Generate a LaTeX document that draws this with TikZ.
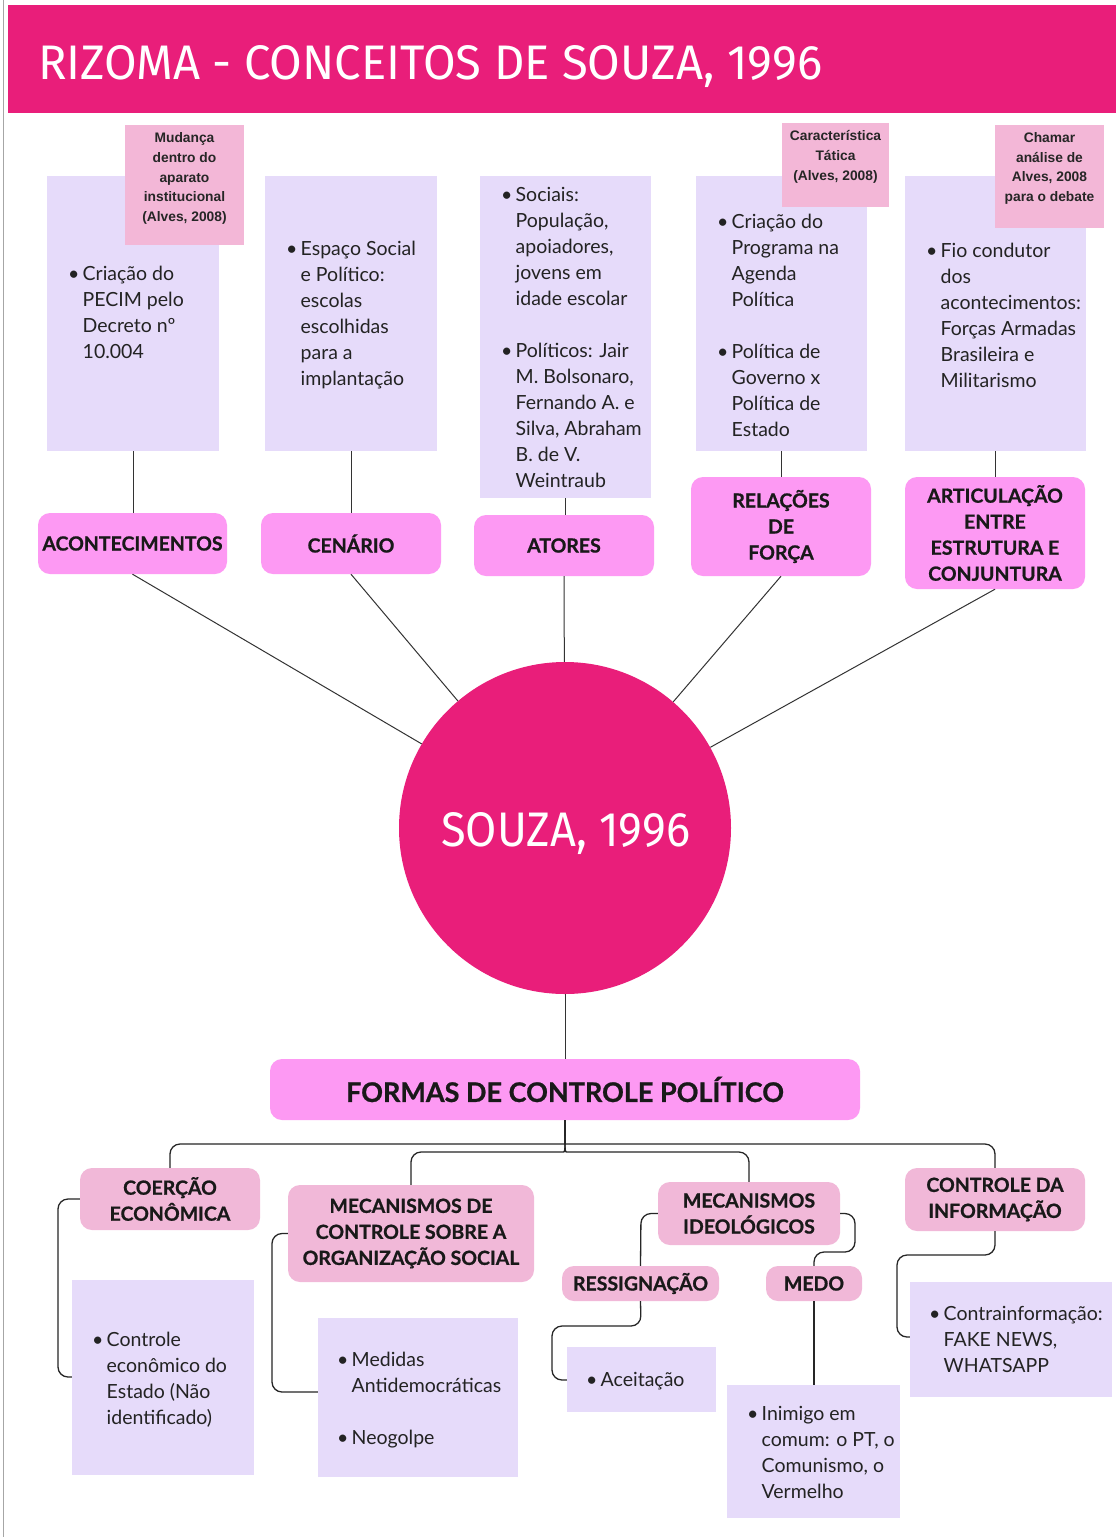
\documentclass[tikz,border=0pt]{standalone}
\usepackage{fontspec}
\usepackage{graphicx}
\setmainfont{Lato}[BoldFeatures={FakeBold=0.8}]
\newfontfamily\titlef{Fira Sans}
\newfontfamily\stickf{Liberation Sans}
\definecolor{hot}{RGB}{233,30,122}
\definecolor{lab}{RGB}{253,153,243}
\definecolor{lav}{RGB}{230,219,250}
\definecolor{stick}{RGB}{243,183,215}
\definecolor{labb}{RGB}{241,184,216}
\definecolor{txt}{RGB}{35,35,35}
\newcommand{\bl}{\makebox[14.5pt][l]{\textbullet}}
\newcommand{\ii}{\hspace*{14.5pt}}
\tikzset{
  lavbox/.style={fill=lav, inner sep=0, draw=none},
  stk/.style={fill=stick, inner sep=0, draw=none},
  stt/.style={inner sep=0, align=center, text=black!85, font=\stickf\bfseries\fontsize{13.8}{19.7}\selectfont},
  tx/.style={inner sep=0, anchor=base west, text=txt, font=\fontsize{19.5}{26}\selectfont},
  lbl/.style={rounded corners=12, fill=lab, align=center, inner sep=0, text=black!90, font=\bfseries\fontsize{19.5}{26}\selectfont},
  lblb/.style={rounded corners=12, fill=labb, align=center, inner sep=0, text=black!90, font=\bfseries\fontsize{19.5}{26}\selectfont},
  thin/.style={draw=black!80, line width=1pt},
  conn/.style={draw=black!85, line width=1.3pt, rounded corners=10},
}
\begin{document}
\begin{tikzpicture}[x=1pt,y=-1pt]
\useasboundingbox (0,0) rectangle (1116,1537);
\fill[white] (0,0) rectangle (1116,1537);
\draw[black!35, line width=1pt] (3,0) -- (3,1537);
% header
\node[fill=hot, minimum width=1108, minimum height=108, inner sep=0] (header) at (562,59) {};
\node[anchor=base west, inner sep=0, text=white] (title) at (38,79) {\resizebox{784pt}{34pt}{\titlef RIZOMA - CONCEITOS DE SOUZA, 1996}};

% top lavender boxes
\node[lavbox, minimum width=172, minimum height=275] (b1) at (133,313.5) {};
\node[lavbox, minimum width=172, minimum height=275] (b2) at (351,313.5) {};
\node[lavbox, minimum width=171, minimum height=322] (b3) at (565.5,337) {};
\node[lavbox, minimum width=171, minimum height=275] (b4) at (781.5,313.5) {};
\node[lavbox, minimum width=181, minimum height=275] (b5) at (995.5,313.5) {};

% sticky notes
\node[stk, minimum width=119, minimum height=120] (s1) at (184.5,185) {};
\node[stt] (s1t) at (184.5,178.5) {Mudança\\dentro do\\aparato\\institucional\\(Alves, 2008)};
\node[stk, minimum width=107, minimum height=84] (s2) at (835.5,165) {};
\node[stt] (s2t) at (835.5,157) {Característica\\Tática\\(Alves, 2008)};
\node[stk, minimum width=109, minimum height=103] (s3) at (1049.5,176.5) {};
\node[stt] (s3t) at (1049.5,168.5) {Chamar\\análise de\\Alves, 2008\\para o debate};

% top box texts
\node[tx] (t1) at (68,280) {\parbox[t]{160pt}{\raggedright\bl Criação do\\\ii PECIM pelo\\\ii Decreto nº\\\ii 10.004}};
\node[tx] (t2) at (286,255) {\parbox[t]{160pt}{\raggedright\bl Espaço Social\\\ii e Político:\\\ii escolas\\\ii escolhidas\\\ii para a\\\ii implantação}};
\node[tx] (t3) at (501,201) {\parbox[t]{160pt}{\raggedright\bl Sociais:\\\ii População,\\\ii apoiadores,\\\ii jovens em\\\ii idade escolar\\[26pt]\bl Políticos: Jair\\\ii M. Bolsonaro,\\\ii Fernando A. e\\\ii Silva, Abraham\\\ii B. de V.\\\ii Weintraub}};
\node[tx] (t4) at (717,228) {\parbox[t]{160pt}{\raggedright\bl Criação do\\\ii Programa na\\\ii Agenda\\\ii Política\\[26pt]\bl Política de\\\ii Governo x\\\ii Política de\\\ii Estado}};
\node[tx] (t5) at (926,257) {\parbox[t]{170pt}{\raggedright\bl Fio condutor\\\ii dos\\\ii acontecimentos:\\\ii Forças Armadas\\\ii Brasileira e\\\ii Militarismo}};

% top labels
\node[lbl, minimum width=189, minimum height=61] (lab1) at (132.5,543.5) {ACONTECIMENTOS};
\node[lbl, minimum width=180, minimum height=61] (lab2) at (351,543.5) {CENÁRIO};
\node[lbl, minimum width=180, minimum height=61] (lab3) at (564,545.5) {ATORES};
\node[lbl, minimum width=180, minimum height=99] (lab4) at (781,526.5) {RELAÇÕES\\DE\\FORÇA};
\node[lbl, minimum width=180, minimum height=112] (lab5) at (995,533) {ARTICULAÇÃO\\ENTRE\\ESTRUTURA E\\CONJUNTURA};

\draw[thin] (b1.south) -- (b1.south |- lab1.north);
\draw[thin] (b2.south) -- (b2.south |- lab2.north);
\draw[thin] (b3.south) -- (b3.south |- lab3.north);
\draw[thin] (b4.south) -- (b4.south |- lab4.north);
\draw[thin] (b5.south) -- (b5.south |- lab5.north);

% central circle
\node[circle, fill=hot, minimum size=332, inner sep=0] (circ) at (565,828) {};
\node[anchor=base west, inner sep=0, text=white] (circt) at (441,846) {\resizebox{249pt}{34pt}{\titlef SOUZA, 1996}};

\draw[thin] (lab1.south) -- (circ);
\draw[thin] (lab2.south) -- (circ);
\draw[thin] (lab3.south) -- (circ);
\draw[thin] (lab4.south) -- (circ);
\draw[thin] (lab5.south) -- (circ);

% formas
\node[lbl, minimum width=590, minimum height=61, font=\bfseries\fontsize{27}{30}\selectfont] (formas) at (565,1089.5) {FORMAS DE CONTROLE POLÍTICO};
\draw[thin] (circ.south) -- (formas.north);

% bottom labels
\node[lblb, minimum width=180, minimum height=62] (coe) at (170,1199) {COERÇÃO\\ECONÔMICA};
\node[lblb, minimum width=246, minimum height=97] (mec) at (411,1233.5) {MECANISMOS DE\\CONTROLE SOBRE A\\ORGANIZAÇÃO SOCIAL};
\node[lblb, minimum width=182, minimum height=63] (ideo) at (749,1213.5) {MECANISMOS\\IDEOLÓGICOS};
\node[lblb, minimum width=180, minimum height=63] (info) at (995,1199.5) {CONTROLE DA\\INFORMAÇÃO};
\node[lblb, minimum width=157, minimum height=35] (ress) at (640.5,1283.5) {RESSIGNAÇÃO};
\node[lblb, minimum width=96, minimum height=35] (medo) at (814,1283.5) {MEDO};

% bottom boxes
\node[lavbox, minimum width=182, minimum height=195] (c1) at (163,1377.5) {};
\node[lavbox, minimum width=200, minimum height=159] (c2) at (418,1397.5) {};
\node[lavbox, minimum width=149, minimum height=65] (c3) at (641.5,1379.5) {};
\node[lavbox, minimum width=173, minimum height=133] (c4) at (813.5,1451.5) {};
\node[lavbox, minimum width=202, minimum height=115] (c5) at (1011,1339.5) {};

\node[tx] (u1) at (92,1346) {\parbox[t]{170pt}{\raggedright\bl Controle\\\ii econômico do\\\ii Estado (Não\\\ii identificado)}};
\node[tx] (u2) at (337,1366) {\parbox[t]{190pt}{\raggedright\bl Medidas\\\ii Antidemocráticas\\[26pt]\bl Neogolpe}};
\node[tx] (u3) at (586,1386) {\parbox[t]{140pt}{\raggedright\bl Aceitação}};
\node[tx] (u4) at (747,1420) {\parbox[t]{170pt}{\raggedright\bl Inimigo em\\\ii comum: o PT, o\\\ii Comunismo, o\\\ii Vermelho}};
\node[tx] (u5) at (929,1320) {\parbox[t]{190pt}{\raggedright\bl Contrainformação:\\\ii FAKE NEWS,\\\ii WHATSAPP}};

% bracket connectors
\coordinate (split) at (565,1136);
\draw[conn] (formas.south) -- (split);
\draw[conn] (split) .. controls (565,1144) .. (555,1144) -- (170,1144) -- (coe.north);
\draw[conn] (split) .. controls (565,1144) .. (575,1144) -- (995,1144) -- (info.north);
\draw[conn] (split) .. controls (565,1152) .. (553,1152) -- (411,1152) -- (mec.north);
\draw[conn] (split) .. controls (565,1152) .. (577,1152) -- (749,1152) -- (ideo.north);

\draw[conn] (coe.west) -- (58,1199) -- (58,1377) -- (c1.west |- 0,1377);
\draw[conn] (mec.west) -- (272,1233.5) -- (272,1392) -- (c2.west |- 0,1392);
\draw[conn] (ideo.west) -- (641,1213.5) -- (ress.north);
\draw[conn] (ress.south) -- (641,1326) -- (552,1326) -- (552,1380) -- (c3.west |- 0,1380);
\draw[conn] (ideo.east) -- (855,1213.5) -- (855,1252) -- (814,1252) -- (medo.north);
\draw[conn] (medo.south) -- (medo.south |- c4.north);
\draw[conn] (info.south) -- (995,1255) -- (897,1255) -- (897,1337) -- (c5.west |- 0,1337);
\end{tikzpicture}
\end{document}
